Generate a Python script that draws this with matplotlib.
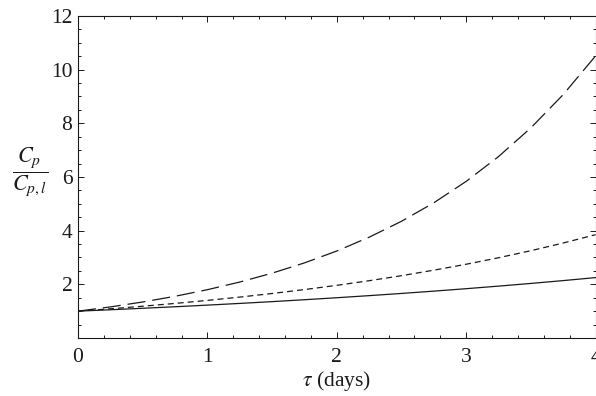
import matplotlib
matplotlib.use("Agg")
import matplotlib.pyplot as plt
from matplotlib.ticker import MultipleLocator, FixedLocator

# =========================
# DATA
# =========================

tau = [0.0, 0.25, 0.5, 0.75, 1.0, 1.25, 1.5, 1.75, 2.0,
       2.25, 2.5, 2.75, 3.0, 3.25, 3.5, 3.75, 4.0]

ratio_solid = [1.000, 1.052, 1.107, 1.164, 1.225, 1.288, 1.355, 1.426, 1.500,
               1.578, 1.660, 1.746, 1.837, 1.933, 2.033, 2.139, 2.250]
ratio_short = [1.000, 1.088, 1.184, 1.288, 1.401, 1.524, 1.658, 1.804, 1.962,
               2.134, 2.322, 2.527, 2.748, 2.990, 3.253, 3.539, 3.850]
ratio_long = [1.000, 1.158, 1.342, 1.554, 1.800, 2.085, 2.416, 2.798, 3.241,
              3.755, 4.349, 5.038, 5.836, 6.760, 7.830, 9.070, 10.51]

x_ticks = [0, 1, 2, 3, 4]
y_ticks = [2, 4, 6, 8, 10, 12]

# =========================
# STYLE
# =========================

plt.rcParams["font.family"] = ["Liberation Serif", "DejaVu Serif"]
plt.rcParams["mathtext.fontset"] = "stix"
plt.rcParams["lines.scale_dashes"] = False

ink = "#1a1a1a"

fig = plt.figure(figsize=(5.96, 3.96), dpi=100)
ax = fig.add_axes([0.1309, 0.1465, 0.8683, 0.8131])

ax.plot(tau, ratio_solid, color=ink, lw=0.9, linestyle="-")
ax.plot(tau, ratio_short, color=ink, lw=0.9, dashes=(4.3, 2.9))
ax.plot(tau, ratio_long, color=ink, lw=0.9, dashes=(13, 5))

ax.set_xlim(0, 4)
ax.set_ylim(0, 12)
ax.xaxis.set_major_locator(FixedLocator(x_ticks))
ax.yaxis.set_major_locator(FixedLocator(y_ticks))
ax.xaxis.set_minor_locator(MultipleLocator(0.2))
ax.yaxis.set_minor_locator(MultipleLocator(0.5))

for s in ax.spines.values():
    s.set_linewidth(0.8)
    s.set_color(ink)

ax.tick_params(which="both", direction="in", top=True, right=True,
               color=ink, width=0.7)
ax.tick_params(which="major", length=4.5)
ax.tick_params(which="minor", length=2.5)
ax.tick_params(axis="x", which="major", labelsize=15.5, pad=7, labelcolor=ink)
ax.tick_params(axis="y", which="major", labelsize=15.5, pad=4, labelcolor=ink)

for lbl in ax.get_xticklabels():
    lbl.set_clip_on(False)

ax.set_xlabel(r"$\tau$ (days)", fontsize=15.5, color=ink, labelpad=2)
fig.text(0.050, 0.566, r"$\dfrac{C_p}{C_{p,l}}$", fontsize=16, color=ink,
         ha="center", va="center")

fig.savefig("out.png", dpi=100)
